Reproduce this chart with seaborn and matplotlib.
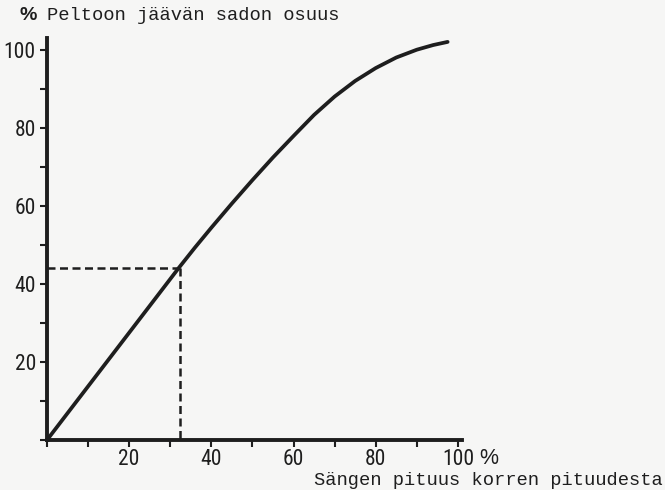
import matplotlib
matplotlib.use("Agg")
import matplotlib.pyplot as plt
import seaborn as sns
import pandas as pd
from matplotlib.ticker import MultipleLocator, FixedLocator

# Data
stubble_pct = [0, 32, 36, 40, 45, 50, 55, 60, 65, 70, 75, 80, 85, 90, 94, 97.5]
left_pct = [0, 44, 49.3, 54.4, 60.6, 66.6, 72.4, 77.9, 83.3, 88.0, 92.0, 95.3, 98.0, 100.0, 101.2, 102]
ref_x = 32.4
ref_y = 44
x_ticks = [20, 40, 60, 80, 100]
x_tick_labels = ["20", "40", "60", "80", "100"]
x_unit = "%"
y_ticks = [20, 40, 60, 80, 100]
y_tick_labels = ["20", "40", "60", "80", "100"]
y_title = "Peltoon jäävän sadon osuus"
y_unit = "%"
x_title = "Sängen pituus korren pituudesta"

sns.set_style("ticks")
plt.rcParams['font.family'] = ['Roboto Condensed', 'Roboto', 'DejaVu Sans']

bg = "#f6f6f5"
ink = "#1e1e1e"

fig = plt.figure(figsize=(6.65, 4.9), dpi=100, facecolor=bg)
ax = fig.add_axes([47/665, 50/490, 415/665, 402/490])
ax.set_facecolor(bg)

df = pd.DataFrame({"x": stubble_pct, "y": left_pct})
sns.lineplot(data=df, x="x", y="y", ax=ax, color=ink, linewidth=2.7, zorder=3)

ax.plot([0, ref_x], [ref_y, ref_y], color=ink, linewidth=1.8, dashes=(3.2, 1.8))
ax.plot([ref_x, ref_x], [ref_y, 0], color=ink, linewidth=1.8, dashes=(3.2, 1.8))

ax.set_xlim(0, 101)
ax.set_ylim(0, 103)

for s in ["top", "right"]:
    ax.spines[s].set_visible(False)
for s in ["left", "bottom"]:
    ax.spines[s].set_linewidth(2.8)
    ax.spines[s].set_color(ink)

ax.xaxis.set_major_locator(FixedLocator(x_ticks))
ax.set_xticklabels(x_tick_labels)
ax.yaxis.set_major_locator(FixedLocator(y_ticks))
ax.set_yticklabels(y_tick_labels)
ax.xaxis.set_minor_locator(MultipleLocator(10))
ax.yaxis.set_minor_locator(MultipleLocator(10))
ax.tick_params(axis="both", which="both", direction="out", color=ink, width=1.5,
               length=5, labelsize=15.5, labelcolor=ink, pad=3)
ax.tick_params(axis="x", which="major", pad=1.5)
ax.set_xlabel("")
ax.set_ylabel("")

mono = ['Liberation Mono', 'DejaVu Sans Mono']
fig.text(20/665, 1 - 15/490, y_unit, fontsize=14, color=ink, va="center", ha="left",
         family=['Liberation Sans', 'DejaVu Sans'], fontweight="bold")
fig.text(47/665, 1 - 15/490, y_title, fontsize=13.5, color=ink, va="center",
         ha="left", family=mono)
fig.text(479/665, 1 - 458/490, x_unit, fontsize=15.5, color=ink, va="center", ha="left",
         family=['Liberation Sans', 'DejaVu Sans'])
fig.text(663/665, 1 - 480/490, x_title, fontsize=13.5, color=ink, va="center",
         ha="right", family=mono)

fig.savefig("out.png", dpi=100, facecolor=bg)
